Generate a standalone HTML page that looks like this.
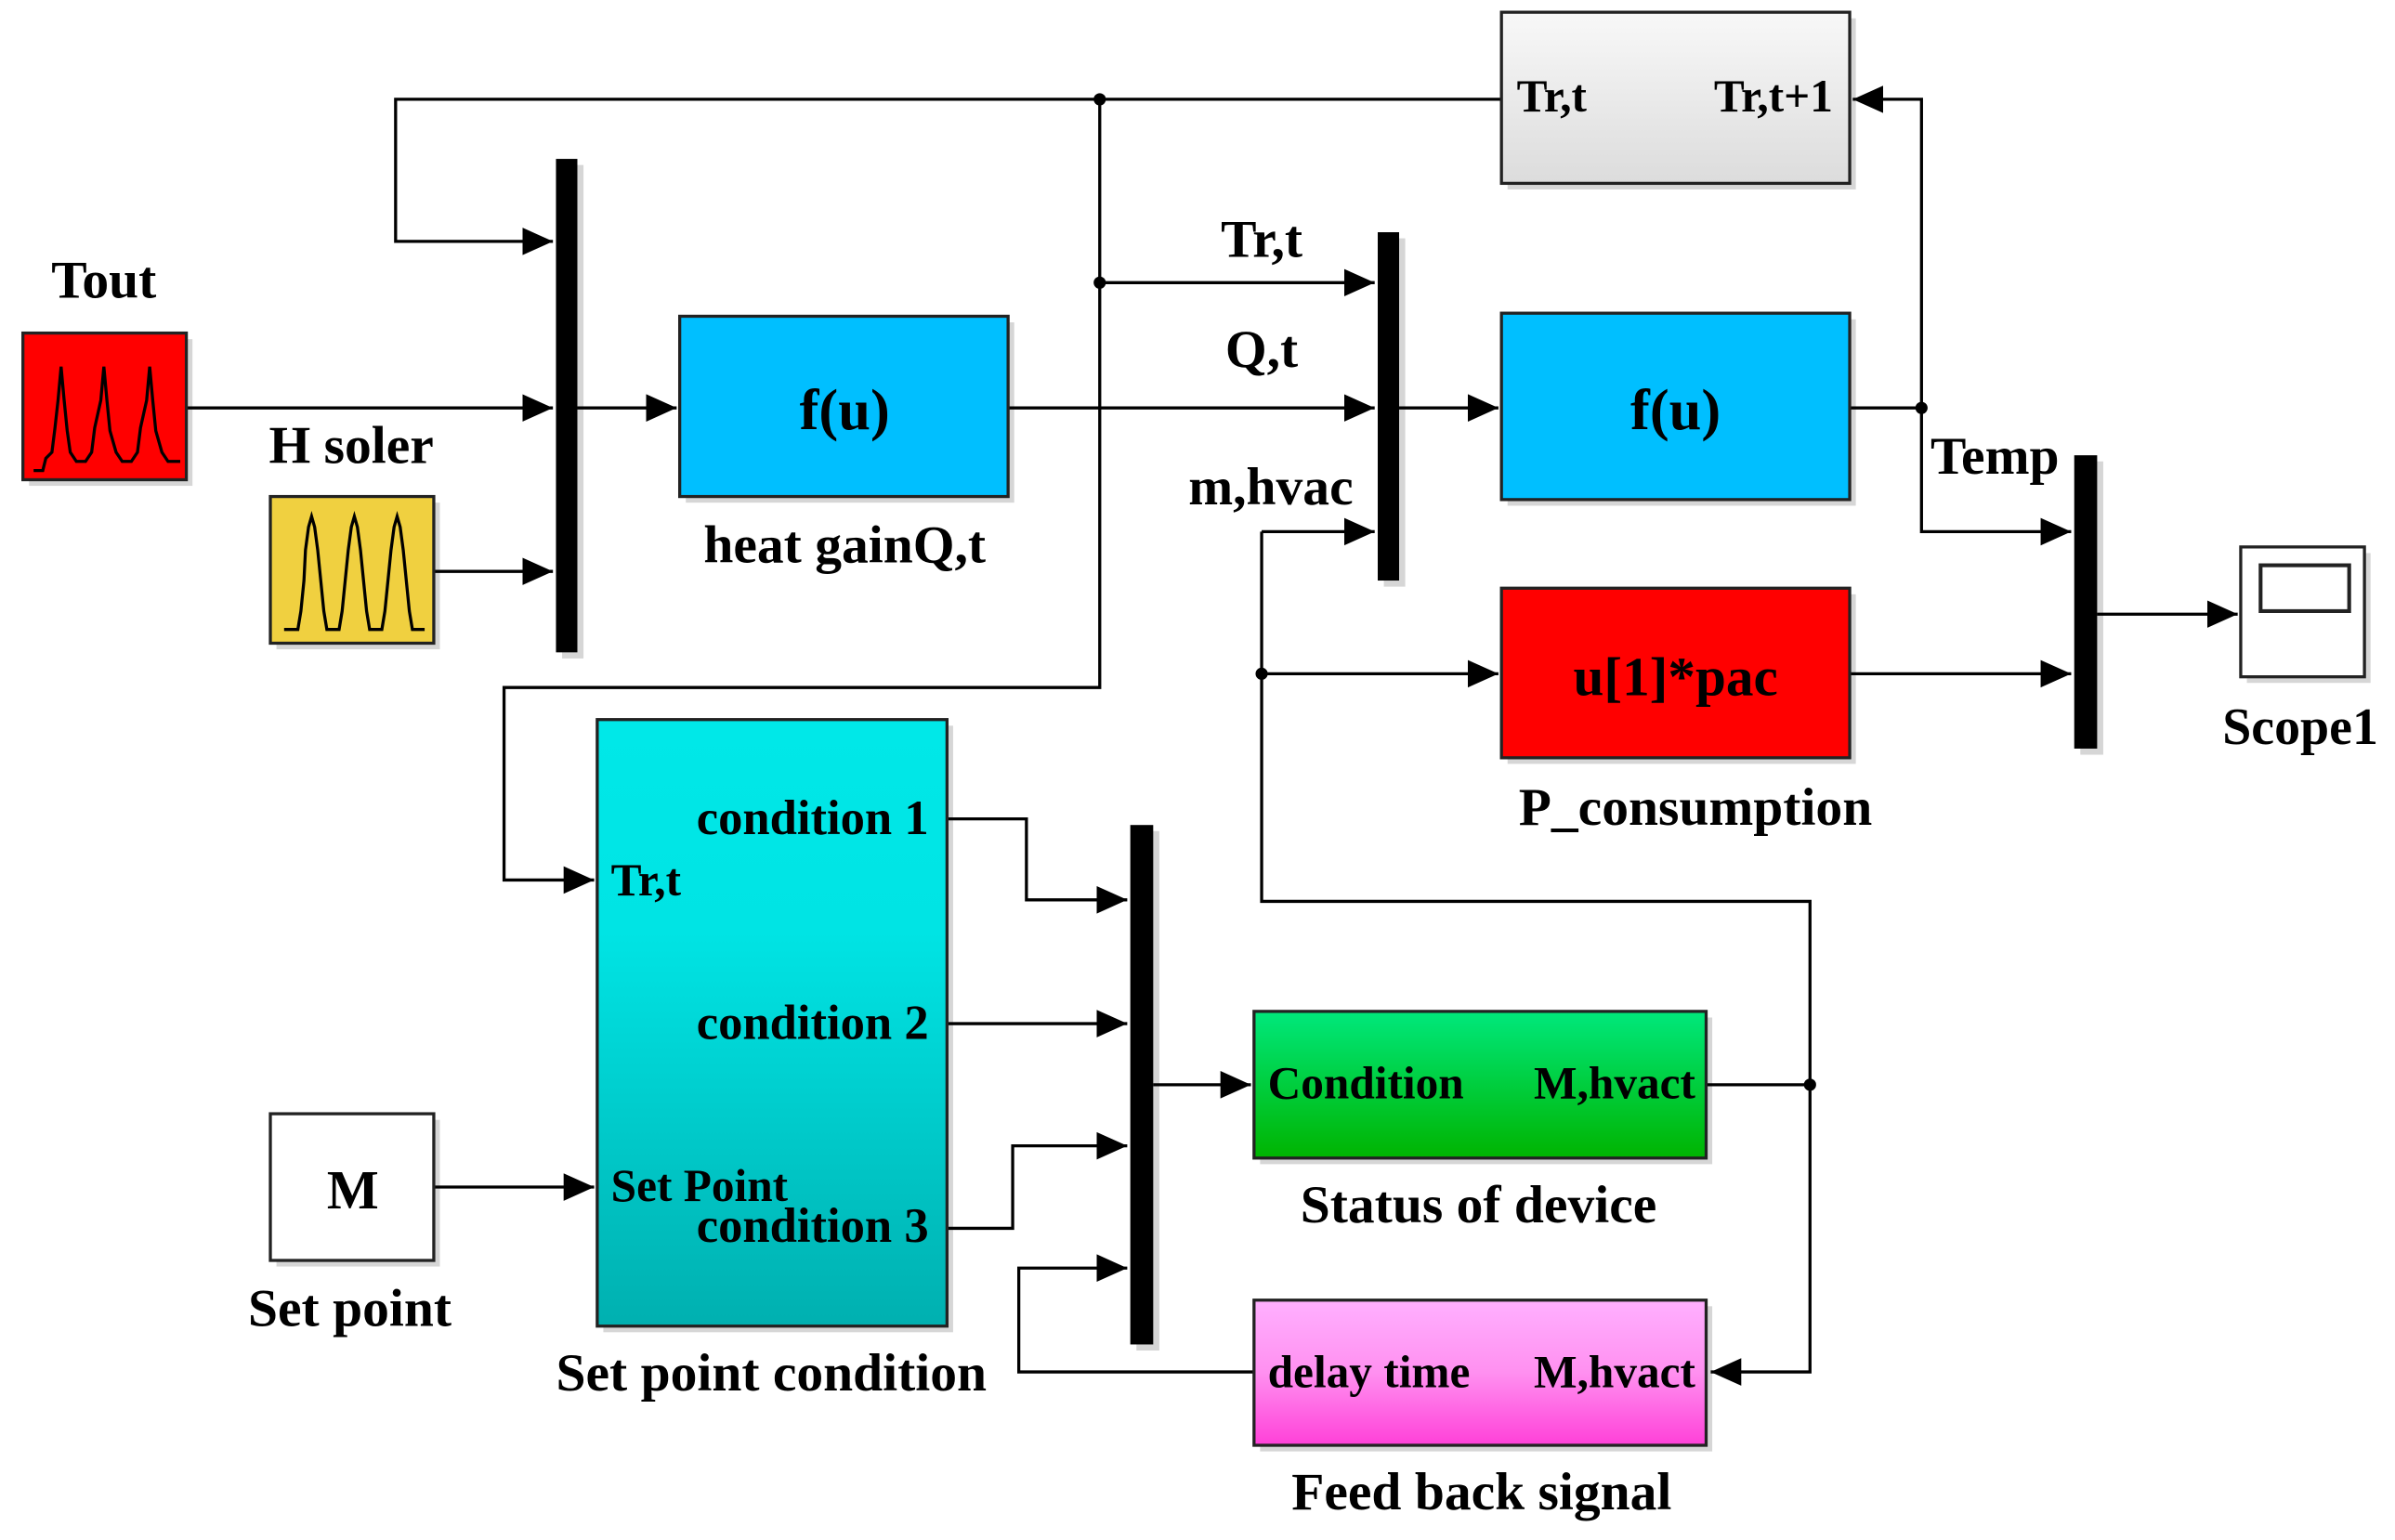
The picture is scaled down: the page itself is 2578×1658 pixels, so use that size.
<!DOCTYPE html>
<html><head><meta charset="utf-8"><style>
html,body{margin:0;padding:0;background:#fff;}
svg{display:block;}
text{font-family:"Liberation Serif",serif;font-weight:bold;fill:#000;}
</style></head><body>
<svg width="2578" height="1658" viewBox="0 0 1568 1008" preserveAspectRatio="none" xmlns="http://www.w3.org/2000/svg">
<defs>
<marker id="A" viewBox="0 0 20 20" refX="20" refY="10" markerWidth="20" markerHeight="20" orient="auto" markerUnits="userSpaceOnUse"><path d="M0,1 L20,10 L0,19 z" fill="#000"/></marker>
<linearGradient id="gray" x1="0" y1="0" x2="0" y2="1"><stop offset="0" stop-color="#f8f8f8"/><stop offset="1" stop-color="#dcdcdc"/></linearGradient>
<linearGradient id="cyan" x1="0" y1="0" x2="0" y2="1"><stop offset="0" stop-color="#00e8e8"/><stop offset="0.35" stop-color="#00e4e4"/><stop offset="1" stop-color="#00b0b0"/></linearGradient>
<linearGradient id="green" x1="0" y1="0" x2="0" y2="1"><stop offset="0" stop-color="#00e87c"/><stop offset="1" stop-color="#00b400"/></linearGradient>
<linearGradient id="pink" x1="0" y1="0" x2="0" y2="1"><stop offset="0" stop-color="#ffb0ff"/><stop offset="0.5" stop-color="#ff90f0"/><stop offset="1" stop-color="#ff40d8"/></linearGradient>
</defs>
<g fill="#bbb" opacity="0.6">
<rect x="19" y="222" width="107" height="96"/><rect x="181" y="329" width="107" height="96"/>
<rect x="449" y="211" width="215" height="118"/><rect x="987" y="12" width="228" height="112"/>
<rect x="987" y="209" width="228" height="122"/><rect x="987" y="389" width="228" height="111"/>
<rect x="1471" y="362" width="81" height="85"/><rect x="395" y="475" width="229" height="397"/>
<rect x="181" y="733" width="107" height="96"/><rect x="825" y="666" width="296" height="96"/>
<rect x="825" y="855" width="296" height="95"/>
<rect x="368" y="108" width="14" height="323"/><rect x="906" y="156" width="14" height="228"/>
<rect x="1362" y="302" width="15" height="192"/><rect x="744" y="544" width="15" height="340"/>
</g>
<g stroke="#000" stroke-width="2" fill="none">
<polyline points="983,65 259,65 259,158 362,158" marker-end="url(#A)"/>
<polyline points="122,267 362,267" marker-end="url(#A)"/>
<polyline points="284,374 362,374" marker-end="url(#A)"/>
<polyline points="378,267 443,267" marker-end="url(#A)"/>
<polyline points="660,267 900,267" marker-end="url(#A)"/>
<polyline points="720,65 720,450 330,450 330,576 389,576" marker-end="url(#A)"/>
<polyline points="720,185 900,185" marker-end="url(#A)"/>
<polyline points="916,267 981,267" marker-end="url(#A)"/>
<polyline points="1211,267 1258,267"/>
<polyline points="1258,267 1258,65 1213,65" marker-end="url(#A)"/>
<polyline points="1258,267 1258,348 1356,348" marker-end="url(#A)"/>
<polyline points="1373,402 1465,402" marker-end="url(#A)"/>
<polyline points="826,348 900,348" marker-end="url(#A)"/>
<polyline points="826,348 826,590 1185,590 1185,898 1120,898" marker-end="url(#A)"/>
<polyline points="826,441 981,441" marker-end="url(#A)"/>
<polyline points="1211,441 1356,441" marker-end="url(#A)"/>
<polyline points="284,777 389,777" marker-end="url(#A)"/>
<polyline points="620,536 672,536 672,589 738,589" marker-end="url(#A)"/>
<polyline points="620,670 738,670" marker-end="url(#A)"/>
<polyline points="620,804 663,804 663,750 738,750" marker-end="url(#A)"/>
<polyline points="821,898 667,898 667,830 738,830" marker-end="url(#A)"/>
<polyline points="755,710 819,710" marker-end="url(#A)"/>
<polyline points="1117,710 1185,710"/>
</g>
<g fill="#000">
<circle cx="720" cy="65" r="4"/><circle cx="720" cy="185" r="4"/><circle cx="1258" cy="267" r="4"/>
<circle cx="826" cy="441" r="4"/><circle cx="1185" cy="710" r="4"/>
</g>
<g fill="#000">
<rect x="364" y="104" width="14" height="323"/><rect x="902" y="152" width="14" height="228"/>
<rect x="1358" y="298" width="15" height="192"/><rect x="740" y="540" width="15" height="340"/>
</g>
<g stroke="#222" stroke-width="2">
<rect x="15" y="218" width="107" height="96" fill="#ff0000"/>
<rect x="177" y="325" width="107" height="96" fill="#f0d040"/>
<rect x="445" y="207" width="215" height="118" fill="#00bfff"/>
<rect x="983" y="8" width="228" height="112" fill="url(#gray)"/>
<rect x="983" y="205" width="228" height="122" fill="#00bfff"/>
<rect x="983" y="385" width="228" height="111" fill="#ff0000"/>
<rect x="1467" y="358" width="81" height="85" fill="#fff"/>
<rect x="391" y="471" width="229" height="397" fill="url(#cyan)"/>
<rect x="177" y="729" width="107" height="96" fill="#fff"/>
<rect x="821" y="662" width="296" height="96" fill="url(#green)"/>
<rect x="821" y="851" width="296" height="95" fill="url(#pink)"/>
<rect x="1480" y="370" width="58" height="30" fill="#fff" stroke-width="2.5"/>
</g>
<g fill="none" stroke="#000" stroke-width="2">
<polyline points="22,308 28,308 30,300 34,296 36,280 38,262 40,240 42,262 44,282 46,296 50,302 56,302 60,296 62,280 66,262 68,240 70,262 72,282 76,296 80,302 86,302 90,296 92,280 96,262 98,240 100,262 102,282 106,296 110,302 118,302"/>
<polyline points="186,412 195,412 197,400 199,380 200,360 202,345 204,338 206,345 208,360 210,380 212,400 214,412 222,412 224,400 226,380 228,360 230,345 232,338 234,345 236,360 238,380 240,400 242,412 250,412 252,400 254,380 256,360 258,345 260,338 262,345 264,360 266,380 268,400 270,412 278,412"/>
</g>
<g font-size="35">
<text x="68" y="195" text-anchor="middle">Tout</text>
<text x="230" y="303" text-anchor="middle">H soler</text>
<text x="553" y="281" text-anchor="middle" font-size="38">f(u)</text>
<text x="553" y="368" text-anchor="middle">heat gainQ,t</text>
<text x="826" y="168" text-anchor="middle">Tr,t</text>
<text x="826" y="240" text-anchor="middle">Q,t</text>
<text x="832" y="330" text-anchor="middle">m,hvac</text>
<text x="1097" y="281" text-anchor="middle" font-size="38">f(u)</text>
<text x="1097" y="455" text-anchor="middle" font-size="36">u[1]*pac</text>
<text x="1110" y="540" text-anchor="middle">P_consumption</text>
<text x="1306" y="310" text-anchor="middle">Temp</text>
<text x="1506" y="487" text-anchor="middle" font-size="34">Scope1</text>
<text x="231" y="791" text-anchor="middle" font-size="36">M</text>
<text x="229" y="868" text-anchor="middle">Set point</text>
<text x="505" y="910" text-anchor="middle">Set point condition</text>
<text x="968" y="800" text-anchor="middle">Status of device</text>
<text x="970" y="988" text-anchor="middle">Feed back signal</text>
</g>
<g font-size="30">
<text x="993" y="73">Tr,t</text>
<text x="1200" y="73" text-anchor="end">Tr,t+1</text>
<text x="608" y="546" text-anchor="end" font-size="32">condition 1</text>
<text x="400" y="586">Tr,t</text>
<text x="608" y="680" text-anchor="end" font-size="32">condition 2</text>
<text x="400" y="786">Set Point</text>
<text x="608" y="813" text-anchor="end" font-size="32">condition 3</text>
<text x="830" y="719">Condition</text>
<text x="1110" y="719" text-anchor="end">M,hvact</text>
<text x="830" y="908">delay time</text>
<text x="1110" y="908" text-anchor="end">M,hvact</text>
</g>
</svg>
</body></html>
